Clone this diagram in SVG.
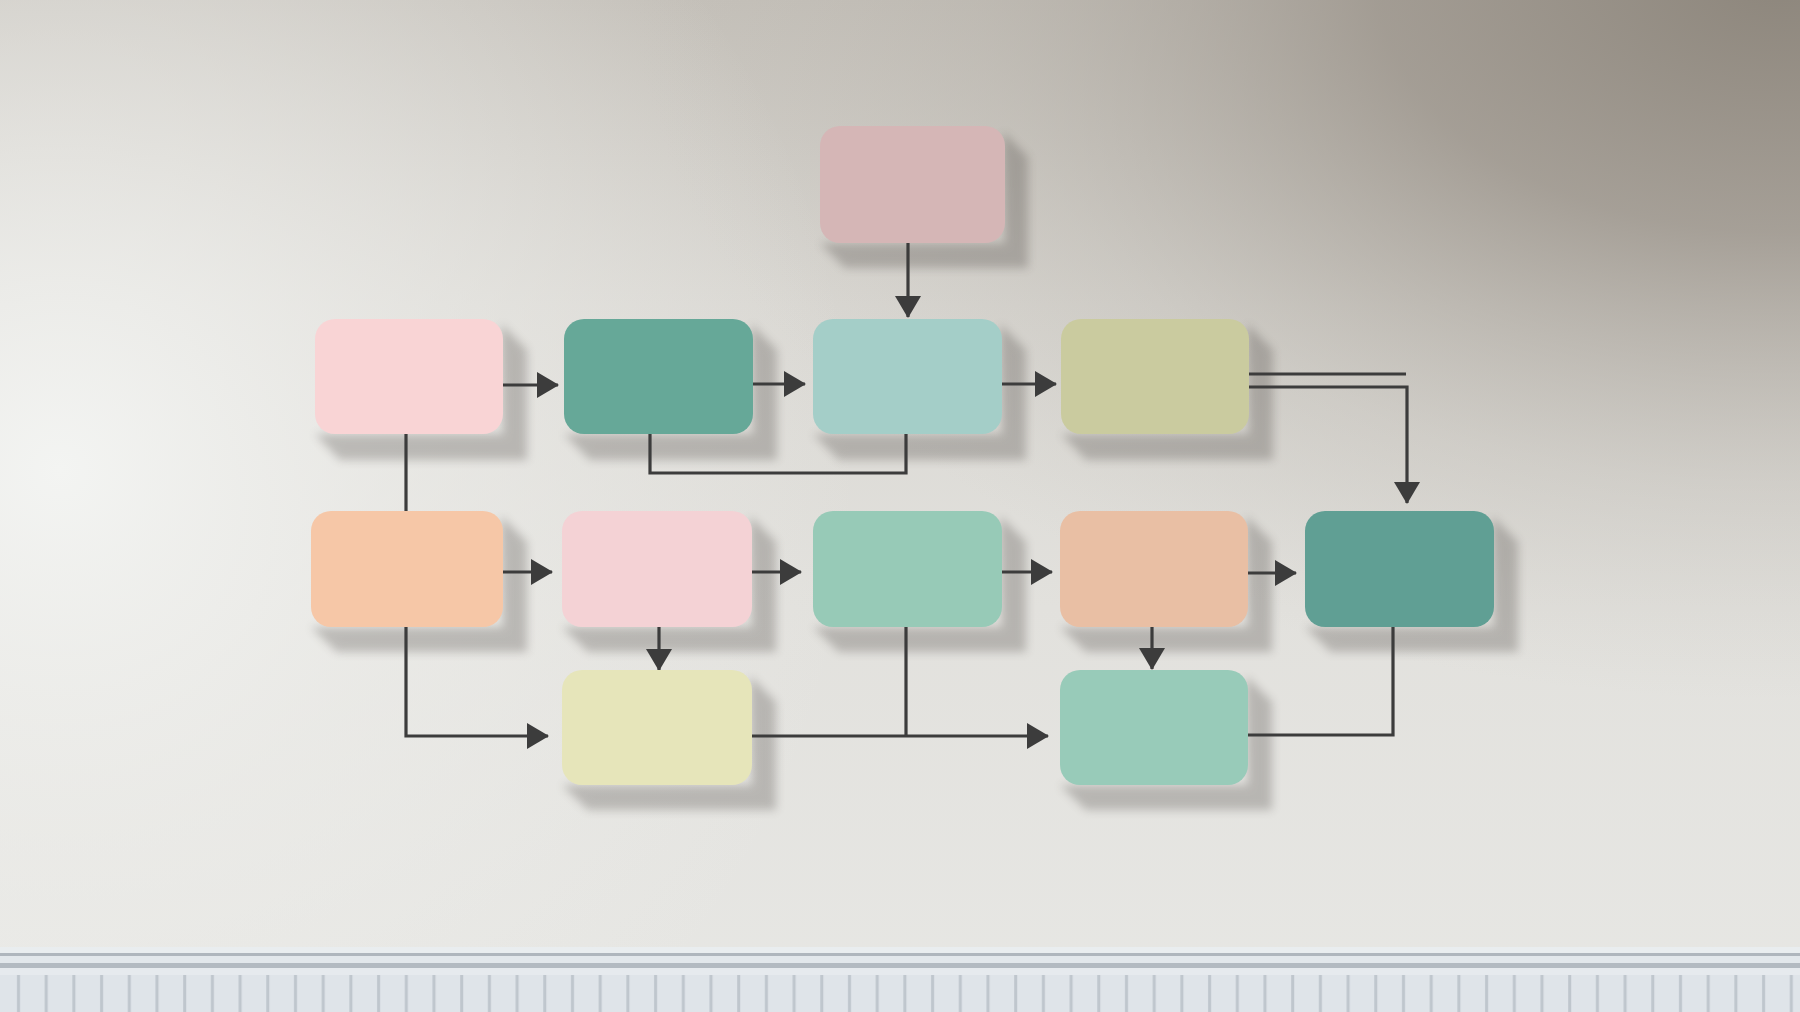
<svg xmlns="http://www.w3.org/2000/svg" width="1800" height="1012" viewBox="0 0 1800 1012">
<defs>
<linearGradient id="wallBase" x1="0" y1="0" x2="0" y2="1">
<stop offset="0" stop-color="#c4c0b9"/>
<stop offset="0.3" stop-color="#d9d7d2"/>
<stop offset="0.6" stop-color="#e2e1dd"/>
<stop offset="1" stop-color="#e7e7e4"/>
</linearGradient>
<radialGradient id="wallLight" cx="60" cy="470" r="800" gradientUnits="userSpaceOnUse">
<stop offset="0" stop-color="#f3f4f2" stop-opacity="1"/>
<stop offset="0.45" stop-color="#eeeeeb" stop-opacity="0.6"/>
<stop offset="1" stop-color="#eeeeeb" stop-opacity="0"/>
</radialGradient>
<radialGradient id="wallDark" cx="0" cy="0" r="1" gradientUnits="userSpaceOnUse" gradientTransform="translate(1780,-20) scale(1150,720)">
<stop offset="0" stop-color="#8d867c" stop-opacity="1"/>
<stop offset="0.35" stop-color="#9a938a" stop-opacity="0.8"/>
<stop offset="0.7" stop-color="#b0aba3" stop-opacity="0.3"/>
<stop offset="1" stop-color="#c0bcb5" stop-opacity="0"/>
</radialGradient>
<pattern id="grooves" x="4" y="0" width="27.7" height="40" patternUnits="userSpaceOnUse">
<rect x="0" y="0" width="27.7" height="40" fill="#dfe4e9"/>
<rect x="13" y="0" width="3" height="40" fill="#bfc6cd"/>
</pattern>
<filter id="shadowBlur" x="-20%" y="-20%" width="150%" height="150%">
<feGaussianBlur stdDeviation="5"/>
</filter>
<marker id="arrow" viewBox="0 0 22 26" refX="21" refY="13" markerWidth="22" markerHeight="26" markerUnits="userSpaceOnUse" orient="auto">
<path d="M0,0 L22,13 L0,26 Z" fill="#3c3c3c"/>
</marker>
<style>
.box{stroke:none}
.shadow{fill:#3a3630;opacity:0.26;filter:url(#shadowBlur)}
.conn{fill:none;stroke:#3c3c3c;stroke-width:3.2;stroke-linejoin:miter}
.arr{marker-end:url(#arrow)}
</style>
</defs>

<!-- wall -->
<rect x="0" y="0" width="1800" height="1012" fill="url(#wallBase)"/>
<rect x="0" y="0" width="1800" height="1012" fill="url(#wallDark)"/>
<rect x="0" y="0" width="1800" height="1012" fill="url(#wallLight)"/>

<!-- wainscoting -->
<g id="wainscot">
<rect x="0" y="947" width="1800" height="6" fill="#e9edef"/>
<rect x="0" y="953" width="1800" height="3" fill="#afb6bd"/>
<rect x="0" y="956" width="1800" height="7" fill="#e2e7eb"/>
<rect x="0" y="963" width="1800" height="5" fill="#b3bac1"/>
<rect x="0" y="968" width="1800" height="7" fill="#e6eaee"/>
<rect x="0" y="975" width="1800" height="37" fill="url(#grooves)"/>
</g>

<!-- shadows -->
<g id="shadows">
<path class="shadow" d="M1003,132 L1028,157 L1028,268 L845,268 L820,243 L1005,243 Z"/>
<path class="shadow" d="M501,324 L527,350 L527,460 L340,460 L315,434 L503,434 Z"/>
<path class="shadow" d="M751,324 L777,350 L777,460 L590,460 L564,434 L753,434 Z"/>
<path class="shadow" d="M1000,324 L1026,350 L1026,460 L839,460 L813,434 L1002,434 Z"/>
<path class="shadow" d="M1247,324 L1273,350 L1273,460 L1086,460 L1061,434 L1249,434 Z"/>
<path class="shadow" d="M501,516 L527,542 L527,652 L337,652 L311,627 L503,627 Z"/>
<path class="shadow" d="M750,516 L776,542 L776,652 L588,652 L562,627 L752,627 Z"/>
<path class="shadow" d="M1000,516 L1026,542 L1026,652 L839,652 L813,627 L1002,627 Z"/>
<path class="shadow" d="M1246,516 L1272,542 L1272,652 L1086,652 L1060,627 L1248,627 Z"/>
<path class="shadow" d="M1492,516 L1518,542 L1518,652 L1331,652 L1305,627 L1494,627 Z"/>
<path class="shadow" d="M750,676 L776,702 L776,810 L588,810 L562,785 L752,785 Z"/>
<path class="shadow" d="M1246,676 L1272,702 L1272,810 L1086,810 L1060,785 L1248,785 Z"/>
</g>

<!-- connectors -->
<g id="connectors">
<path class="conn arr" d="M908,243 V317"/>
<path class="conn arr" d="M503,385 H558"/>
<path class="conn arr" d="M753,384 H805"/>
<path class="conn arr" d="M1002,384 H1056"/>
<path class="conn" d="M650,434 V473 H906 V434"/>
<path class="conn" d="M1249,374 H1406"/>
<path class="conn arr" d="M1249,387 H1407 V503"/>
<path class="conn" d="M406,434 V511"/>
<path class="conn arr" d="M503,572 H552"/>
<path class="conn arr" d="M752,572 H801"/>
<path class="conn arr" d="M1002,572 H1052"/>
<path class="conn arr" d="M1248,573 H1296"/>
<path class="conn arr" d="M659,627 V670"/>
<path class="conn arr" d="M1152,627 V669"/>
<path class="conn arr" d="M406,627 V736 H548"/>
<path class="conn arr" d="M752,736 H1048"/>
<path class="conn" d="M906,627 V736"/>
<path class="conn" d="M1393,627 V735 H1248"/>
</g>

<!-- nodes -->
<g id="node-top"><rect class="box" x="820" y="126" width="185" height="117" rx="20" fill="#d5b6b6"/></g>
<g id="node-r1c1"><rect class="box" x="315" y="319" width="188" height="115" rx="20" fill="#f9d4d5"/></g>
<g id="node-r1c2"><rect class="box" x="564" y="319" width="189" height="115" rx="20" fill="#66a898"/></g>
<g id="node-r1c3"><rect class="box" x="813" y="319" width="189" height="115" rx="20" fill="#a4cec8"/></g>
<g id="node-r1c4"><rect class="box" x="1061" y="319" width="188" height="115" rx="20" fill="#cacb9f"/></g>
<g id="node-r2c1"><rect class="box" x="311" y="511" width="192" height="116" rx="20" fill="#f6c7a7"/></g>
<g id="node-r2c2"><rect class="box" x="562" y="511" width="190" height="116" rx="20" fill="#f4d2d5"/></g>
<g id="node-r2c3"><rect class="box" x="813" y="511" width="189" height="116" rx="20" fill="#97cab7"/></g>
<g id="node-r2c4"><rect class="box" x="1060" y="511" width="188" height="116" rx="20" fill="#e9bfa4"/></g>
<g id="node-r2c5"><rect class="box" x="1305" y="511" width="189" height="116" rx="20" fill="#609f94"/></g>
<g id="node-r3c2"><rect class="box" x="562" y="670" width="190" height="115" rx="20" fill="#e6e5ba"/></g>
<g id="node-r3c4"><rect class="box" x="1060" y="670" width="188" height="115" rx="20" fill="#98cbb9"/></g>
</svg>
